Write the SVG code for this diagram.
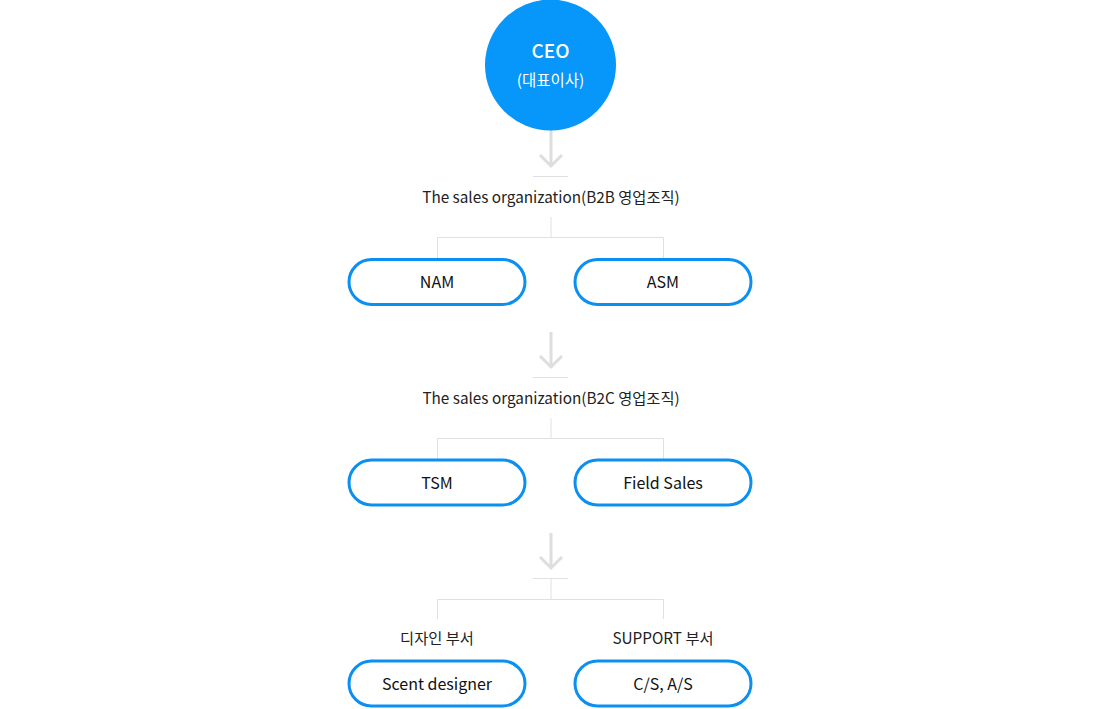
<svg xmlns="http://www.w3.org/2000/svg" width="1100" height="709" viewBox="0 0 1100 709">
<style>
.pill{fill:#fff;stroke:#0b90f2;stroke-width:3}
.ln{stroke:#e0e0e0;stroke-width:1;fill:none}
.arr{stroke:#dedede;stroke-width:3;fill:none}
.t{font-family:"Noto Sans CJK KR","Noto Sans",sans-serif;text-anchor:middle;fill:#111}
.lbl{font-size:15.3px;fill:#222}
.pt{font-size:16px;font-weight:400}
</style>
<rect width="1100" height="709" fill="#fff"/>
<g id="connectors">
<path class="arr" d="M551 130V166M540 155L551 166L562 155"/>
<path class="ln" d="M533 176.5H568M551 217V237.5M437.5 237.5H663.5M437.5 237.5V258M663.5 237.5V258"/>
<path class="arr" d="M551 332V367M540 356L551 367L562 356"/>
<path class="ln" d="M533 377.5H568M551 418V438.5M437.5 438.5H663.5M437.5 438.5V459M663.5 438.5V459"/>
<path class="arr" d="M551 533V568M540 557L551 568L562 557"/>
<path class="ln" d="M533 578.5H568M551 578.5V599.5M437.5 599.5H663.5M437.5 599.5V619M663.5 599.5V619"/>
</g>
<g id="ceo">
<circle cx="550.5" cy="65" r="65.5" fill="#0796fa"/>
<text class="t" x="550.5" y="58" font-size="19" font-weight="500" style="fill:#fff">CEO</text>
<text class="t" x="550.5" y="86" font-size="15.5" style="fill:#fff">(대표이사)</text>
</g>
<g id="b2b-label"><text class="t lbl" x="551" y="203">The sales organization(B2B 영업조직)</text></g>
<g id="nam"><rect class="pill" x="349" y="259.5" width="176" height="45" rx="22.5"/><text class="t pt" x="437" y="288">NAM</text></g>
<g id="asm"><rect class="pill" x="575" y="259.5" width="176" height="45" rx="22.5"/><text class="t pt" x="663" y="288">ASM</text></g>
<g id="b2c-label"><text class="t lbl" x="551" y="404">The sales organization(B2C 영업조직)</text></g>
<g id="tsm"><rect class="pill" x="349" y="460" width="176" height="45" rx="22.5"/><text class="t pt" x="437" y="489">TSM</text></g>
<g id="field-sales"><rect class="pill" x="575" y="460" width="176" height="45" rx="22.5"/><text class="t pt" x="663" y="489">Field Sales</text></g>
<g id="design-label"><text class="t lbl" x="437" y="644">디자인 부서</text></g>
<g id="support-label"><text class="t lbl" x="663" y="644">SUPPORT 부서</text></g>
<g id="scent-designer"><rect class="pill" x="349" y="661" width="176" height="45" rx="22.5"/><text class="t pt" x="437" y="690">Scent designer</text></g>
<g id="cs-as"><rect class="pill" x="575" y="661" width="176" height="45" rx="22.5"/><text class="t pt" x="663" y="690">C/S, A/S</text></g>
</svg>
